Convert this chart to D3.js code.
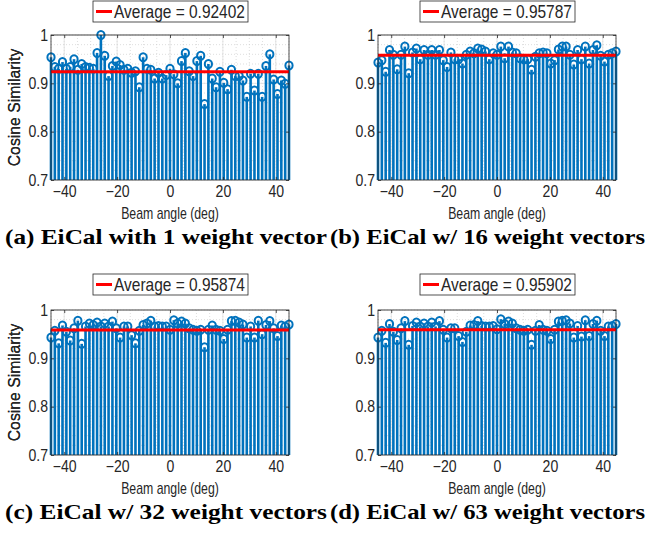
<!DOCTYPE html>
<html>
<head>
<meta charset="utf-8">
<script src="https://cdn.jsdelivr.net/npm/d3@7/dist/d3.min.js"></script>
<style>
body { margin: 0; background: #fff; }
svg text { font-family: "Liberation Sans", Arial, sans-serif; fill: #262626; }
svg text.caption { font-family: "Liberation Serif", "Times New Roman", serif; font-weight: bold; fill: #000; }
</style>
</head>
<body>
<svg id="chart" width="649" height="534"></svg>
<script>
// beam angles (deg), 63 beams from -45 to 45
var angles = [-45, -43.55, -42.1, -40.65, -39.19, -37.74, -36.29, -34.84, -33.39, -31.94, -30.48,
  -29.03, -27.58, -26.13, -24.68, -23.23, -21.77, -20.32, -18.87, -17.42, -15.97, -14.52,
  -13.06, -11.61, -10.16, -8.71, -7.26, -5.81, -4.35, -2.9, -1.45, 0,
  1.45, 2.9, 4.35, 5.81, 7.26, 8.71, 10.16, 11.61, 13.06, 14.52, 15.97, 17.42, 18.87, 20.32,
  21.77, 23.23, 24.68, 26.13, 27.58, 29.03, 30.48, 31.94, 33.39, 34.84, 36.29, 37.74, 39.19,
  40.65, 42.1, 43.55, 45];

var simA = [0.954, 0.934, 0.930, 0.944, 0.930, 0.934, 0.950, 0.928, 0.940, 0.934, 0.932, 0.930, 0.963,
  1.000, 0.957, 0.915, 0.936, 0.945, 0.938, 0.928, 0.930, 0.922, 0.925, 0.892, 0.954, 0.930, 0.928,
  0.910, 0.922, 0.910, 0.917, 0.930, 0.919, 0.900, 0.946, 0.963, 0.925, 0.915, 0.946, 0.957, 0.857,
  0.940, 0.910, 0.892, 0.924, 0.901, 0.888, 0.928, 0.915, 0.915, 0.906, 0.872, 0.920, 0.885, 0.920,
  0.872, 0.936, 0.960, 0.908, 0.878, 0.906, 0.899, 0.937];

var simB = [0.943, 0.948, 0.924, 0.969, 0.959, 0.929, 0.959, 0.976, 0.921, 0.964, 0.972, 0.950, 0.969,
  0.959, 0.969, 0.959, 0.969, 0.948, 0.934, 0.964, 0.950, 0.950, 0.941, 0.959, 0.966, 0.962, 0.972,
  0.970, 0.966, 0.950, 0.962, 0.959, 0.976, 0.952, 0.976, 0.964, 0.962, 0.952, 0.950, 0.950, 0.928,
  0.955, 0.962, 0.964, 0.962, 0.941, 0.948, 0.970, 0.976, 0.976, 0.959, 0.939, 0.969, 0.950, 0.976,
  0.941, 0.969, 0.979, 0.957, 0.945, 0.959, 0.962, 0.966];

var simC = [0.943, 0.957, 0.931, 0.968, 0.955, 0.937, 0.962, 0.978, 0.930, 0.966, 0.972, 0.969, 0.974,
  0.966, 0.972, 0.966, 0.976, 0.962, 0.943, 0.966, 0.966, 0.948, 0.931, 0.957, 0.969, 0.972, 0.978,
  0.966, 0.967, 0.966, 0.966, 0.959, 0.979, 0.972, 0.976, 0.972, 0.962, 0.959, 0.957, 0.959, 0.923,
  0.959, 0.968, 0.959, 0.957, 0.940, 0.959, 0.977, 0.978, 0.974, 0.970, 0.943, 0.966, 0.943, 0.978,
  0.950, 0.969, 0.977, 0.962, 0.946, 0.968, 0.966, 0.970];

var simD = [0.943, 0.957, 0.932, 0.971, 0.955, 0.938, 0.962, 0.977, 0.928, 0.967, 0.974, 0.966, 0.972,
  0.966, 0.974, 0.966, 0.977, 0.959, 0.943, 0.962, 0.962, 0.946, 0.934, 0.955, 0.968, 0.969, 0.977,
  0.967, 0.966, 0.966, 0.967, 0.960, 0.981, 0.971, 0.976, 0.972, 0.962, 0.959, 0.957, 0.959, 0.928,
  0.957, 0.969, 0.959, 0.957, 0.940, 0.959, 0.976, 0.978, 0.979, 0.972, 0.943, 0.967, 0.945, 0.979,
  0.946, 0.971, 0.978, 0.957, 0.946, 0.966, 0.967, 0.971];

var averages = [0.92402, 0.95787, 0.95874, 0.95902];
var captions = ["(a) EiCal with 1 weight vector", "(b) EiCal w/ 16 weight vectors",
  "(c) EiCal w/ 32 weight vectors", "(d) EiCal w/ 63 weight vectors"];
var xTicks = [-40, -20, 0, 20, 40];
var yTicks = [0.7, 0.8, 0.9, 1];

var blue = "#0072BD";
var width = 238;
var height = 145;
// horizontal text in the original is a little narrow
var squeeze = 0.88;

var svg = d3.select("#chart");

var panels = [
  {left: 51, top: 35, values: simA, capX: 166, capW: 322},
  {left: 378, top: 35, values: simB, capX: 487.5, capW: 315},
  {left: 51, top: 310, values: simC, capX: 166, capW: 322},
  {left: 378, top: 310, values: simD, capX: 487.5, capW: 315}
];

var xScale = d3.scaleLinear().domain([-45, 45]).range([0, width]);
var yScale = d3.scaleLinear().domain([0.7, 1]).range([height, 0]);

panels.forEach(function(p, i) {
  var g = svg.append("g")
    .attr("transform", `translate(${p.left}, ${p.top})`);

  // minor grid (dotted)
  g.selectAll(".xminor")
    .data(xScale.ticks(18))
    .enter()
    .append("line")
    .attr("x1", d => xScale(d)).attr("x2", d => xScale(d))
    .attr("y1", 0).attr("y2", height)
    .attr("stroke", "#c8c8c8")
    .attr("stroke-width", 0.6)
    .attr("stroke-dasharray", "1,2");
  g.selectAll(".yminor")
    .data(yScale.ticks(15))
    .enter()
    .append("line")
    .attr("x1", 0).attr("x2", width)
    .attr("y1", d => yScale(d)).attr("y2", d => yScale(d))
    .attr("stroke", "#c8c8c8")
    .attr("stroke-width", 0.6)
    .attr("stroke-dasharray", "1,2");
  // major grid
  g.selectAll(".xmajor")
    .data(xTicks)
    .enter()
    .append("line")
    .attr("x1", d => xScale(d)).attr("x2", d => xScale(d))
    .attr("y1", 0).attr("y2", height)
    .attr("stroke", "#dedede")
    .attr("stroke-width", 0.8);
  g.selectAll(".ymajor")
    .data(yTicks)
    .enter()
    .append("line")
    .attr("x1", 0).attr("x2", width)
    .attr("y1", d => yScale(d)).attr("y2", d => yScale(d))
    .attr("stroke", "#dedede")
    .attr("stroke-width", 0.8);

  var pts = angles.map((a, k) => ({angle: a, value: p.values[k]}));

  // stems
  g.selectAll(".stem")
    .data(pts)
    .enter()
    .append("line")
    .attr("x1", d => xScale(d.angle)).attr("x2", d => xScale(d.angle))
    .attr("y1", height)
    .attr("y2", d => yScale(d.value))
    .attr("stroke", blue)
    .attr("stroke-width", 2.6);

  // markers
  g.selectAll(".marker")
    .data(pts)
    .enter()
    .append("ellipse")
    .attr("cx", d => xScale(d.angle))
    .attr("cy", d => yScale(d.value))
    .attr("rx", 3.6)
    .attr("ry", 4)
    .attr("fill", "none")
    .attr("stroke", blue)
    .attr("stroke-width", 2);

  // average line
  g.append("line")
    .attr("x1", xScale(-45)).attr("x2", xScale(45))
    .attr("y1", yScale(averages[i])).attr("y2", yScale(averages[i]))
    .attr("stroke", "#ff0000")
    .attr("stroke-width", 3);

  // axes, ticks pointing inward on all four sides
  var bottom = g.append("g")
    .attr("transform", `translate(0, ${height})`)
    .call(d3.axisBottom(xScale).tickValues(xTicks).tickSize(-3).tickPadding(5.5));
  var top = g.append("g")
    .call(d3.axisTop(xScale).tickValues(xTicks).tickSize(-3).tickFormat(""));
  var left = g.append("g")
    .call(d3.axisLeft(yScale).tickValues(yTicks).tickSize(-3).tickPadding(3)
      .tickFormat(d => d === 1 ? "1" : d3.format(".1f")(d)));
  var right = g.append("g")
    .attr("transform", `translate(${width}, 0)`)
    .call(d3.axisRight(yScale).tickValues(yTicks).tickSize(-3).tickFormat(""));
  [bottom, top, left, right].forEach(function(ax) {
    ax.select(".domain").remove();
    ax.selectAll(".tick line").attr("stroke", "#262626").attr("stroke-width", 0.8);
    ax.selectAll(".tick text")
      .attr("fill", "#262626")
      .style("font-size", "16px")
      .style("font-family", "'Liberation Sans', Arial, sans-serif");
  });
  bottom.selectAll(".tick text").attr("transform", `scale(${squeeze}, 1)`);
  left.selectAll(".tick text")
    .attr("x", -3 / squeeze)
    .attr("transform", `scale(${squeeze}, 1)`);

  g.append("rect")
    .attr("width", width)
    .attr("height", height)
    .attr("fill", "none")
    .attr("stroke", "#262626")
    .attr("stroke-width", 0.8);

  // axis labels
  g.append("text")
    .attr("transform", `translate(${width / 2}, ${height + 39}) scale(0.75, 1)`)
    .attr("text-anchor", "middle")
    .style("font-size", "16.4px")
    .text("Beam angle (deg)");

  g.append("text")
    .attr("transform", `translate(${20 - p.left}, ${height / 2}) rotate(-90)`)
    .attr("text-anchor", "middle")
    .style("font-size", "15.8px")
    .text("Cosine Similarity");

  // legend
  var ly = i < 2 ? -34 : -36;
  var legend = g.append("g").attr("transform", `translate(42, ${ly})`);
  legend.append("rect")
    .attr("width", 155)
    .attr("height", 21)
    .attr("fill", "#fff")
    .attr("stroke", "#262626")
    .attr("stroke-width", 0.8);
  legend.append("line")
    .attr("x1", 3).attr("x2", 19)
    .attr("y1", 10.5).attr("y2", 10.5)
    .attr("stroke", "#ff0000")
    .attr("stroke-width", 3);
  legend.append("text")
    .attr("transform", "translate(21, 16.5) scale(0.88, 1)")
    .style("font-size", "17.6px")
    .attr("fill", "#000")
    .text("Average = " + averages[i]);

  // caption
  svg.append("text")
    .attr("class", "caption")
    .attr("x", p.capX)
    .attr("y", p.top + height + 64)
    .attr("text-anchor", "middle")
    .attr("textLength", p.capW)
    .attr("lengthAdjust", "spacingAndGlyphs")
    .style("font-size", "21px")
    .text(captions[i]);
});
</script>
</body>
</html>
